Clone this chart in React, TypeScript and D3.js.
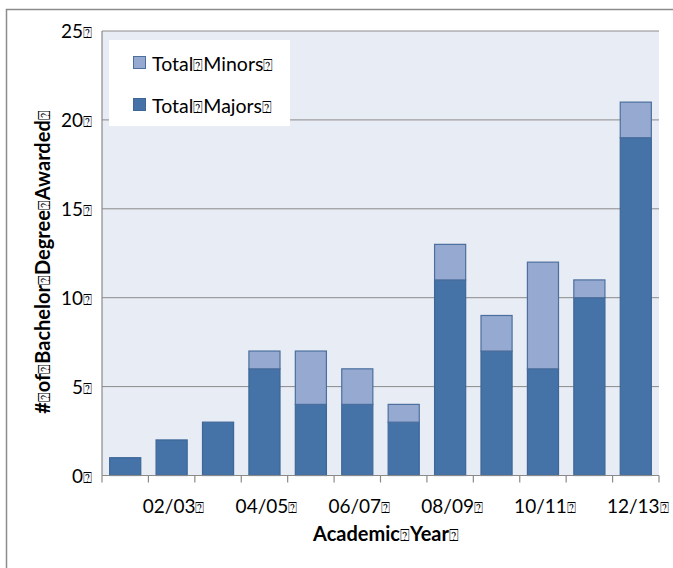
import React, { useEffect } from 'react';
import * as d3 from 'd3';

const years = ['01/02', '02/03', '03/04', '04/05', '05/06', '06/07', '07/08', '08/09', '09/10', '10/11', '11/12', '12/13'];
const majors = [1, 2, 3, 6, 4, 4, 3, 11, 7, 6, 10, 19];
const minors = [0, 0, 0, 1, 3, 2, 1, 2, 2, 6, 1, 2];
const yTicks = [0, 5, 10, 15, 20, 25];
const seriesNames = ['Total Minors', 'Total Majors'];

const BOX = '\u2370';
const FONT = 'Lato, "Open Sans", sans-serif';

// text with the "missing glyph" boxes the original shows instead of spaces
const Tofu: React.FC<{ text: string }> = ({ text }) => {
  const parts = text.split(' ');
  return (
    <>
      {parts.map((p, i) => (
        <React.Fragment key={i}>
          <tspan>{p}</tspan>
          <tspan fontFamily="DejaVu Sans" fontWeight="normal" fontSize="0.8em">{BOX}</tspan>
        </React.Fragment>
      ))}
    </>
  );
};

const App: React.FC = () => {
  const width = 673;
  const height = 568;
  const left = 102, right = 659, top = 31, bottom = 475.5;

  useEffect(() => {
    document.body.style.margin = '0';
    document.body.style.overflow = 'hidden';
    document.documentElement.style.overflow = 'hidden';
  }, []);

  const x = d3.scaleBand<string>().domain(years).range([left, right]).paddingInner(0.33).paddingOuter(0.165);
  const y = d3.scaleLinear().domain([0, 25]).range([bottom, top]);

  const step = x.step();
  const gap = (step - x.bandwidth()) / 2;
  const tickXs = years.map(d => (x(d) || 0) - gap).concat([right]);

  const stacked = d3.stack<number>().keys(['majors', 'minors'])
    .value((i, key) => (key === 'majors' ? majors[i] : minors[i]))(d3.range(years.length));

  const colors = { majors: '#4572A7', minors: '#95A9D1' };
  const strokes = { majors: '#3E6797', minors: '#4C6F9E' };

  return (
    <svg width={width} height={height} style={{ display: 'block' }} fontFamily={FONT}>
      <rect x={0} y={0} width={width} height={height} fill="#fff" />
      <path d={`M6.5,${height} V9.5 H${width}`} fill="none" stroke="#8c8c8c" strokeWidth={1.5} />
      <rect x={left} y={top} width={right - left} height={bottom - top} fill="#E8ECF4" />
      {yTicks.filter(t => t > 0).map(t => (
        <line key={t} x1={left} x2={right} y1={y(t)} y2={y(t)} stroke="#8a8a8a" strokeWidth={1} />
      ))}
      {stacked.map(s => (
        <g key={s.key}>
          {s.map((d, i) => d[1] - d[0] > 0 ? (
            <rect key={i} x={x(years[i])} y={y(d[1])} width={x.bandwidth()} height={y(d[0]) - y(d[1])}
              fill={colors[s.key as 'majors' | 'minors']} stroke={strokes[s.key as 'majors' | 'minors']} strokeWidth={1.2} />
          ) : null)}
        </g>
      ))}
      <line x1={left} x2={left} y1={top} y2={bottom} stroke="#8a8a8a" strokeWidth={1.2} />
      <line x1={left} x2={right} y1={bottom} y2={bottom} stroke="#8a8a8a" strokeWidth={1.2} />
      {tickXs.map((tx, i) => (
        <line key={i} x1={tx} x2={tx} y1={bottom} y2={bottom + 7} stroke="#8a8a8a" strokeWidth={1.2} />
      ))}
      {yTicks.map(t => (
        <text key={t} x={92} y={y(t) + 7} textAnchor="end" fontSize={19} fill="#000"><Tofu text={String(t)} /></text>
      ))}
      {years.map((yr, i) => i % 2 === 1 ? (
        <text key={yr} x={(x(yr) || 0) + x.bandwidth() / 2 + 2} y={513} textAnchor="middle" fontSize={19} fill="#000"><Tofu text={yr} /></text>
      ) : null)}
      <text x={386} y={541} textAnchor="middle" fontSize={20} fontWeight="bold" fill="#000"><Tofu text="Academic Year" /></text>
      <text transform={`translate(50,262) rotate(-90)`} textAnchor="middle" fontSize={20} fontWeight="bold" fill="#000">
        <Tofu text="# of Bachelor Degree Awarded" />
      </text>
      <rect x={109} y={40} width={181} height={86} fill="#fff" />
      {seriesNames.map((n, i) => (
        <g key={n} transform={`translate(133,${56 + i * 42})`}>
          <rect x={0.5} y={0.5} width={12} height={12} fill={i === 0 ? colors.minors : colors.majors} stroke={i === 0 ? strokes.minors : strokes.majors} strokeWidth={1} />
          <text x={19} y={14.5} fontSize={19.5} fill="#000"><Tofu text={n} /></text>
        </g>
      ))}
    </svg>
  );
};

export default App;
